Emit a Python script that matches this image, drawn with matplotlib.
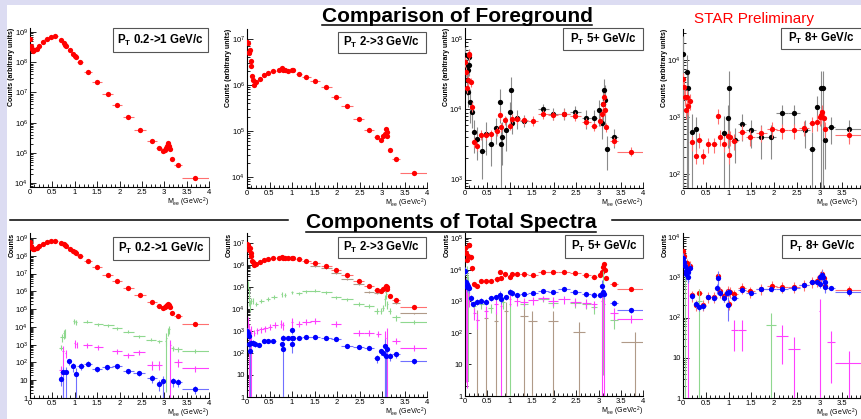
import numpy as np
import matplotlib.pyplot as plt
from matplotlib.ticker import MultipleLocator, FixedLocator, LogLocator, FuncFormatter, NullFormatter
from matplotlib.patches import Rectangle
from matplotlib.lines import Line2D

plt.rcParams['font.family'] = ['Liberation Sans', 'DejaVu Sans']
plt.rcParams['mathtext.default'] = 'regular'

# ---------------------------------------------------------------
# Data: invariant mass (GeV/c^2) and log10(counts)
# ---------------------------------------------------------------

# mass bin edges, used for the horizontal error bars
bin_edges = [0.0, 0.015, 0.025, 0.035, 0.045, 0.055, 0.065, 0.075, 0.085, 0.095,
             0.105, 0.115, 0.125, 0.14, 0.17, 0.24, 0.32, 0.42, 0.52, 0.64, 0.74,
             0.775, 0.79, 0.815, 0.86, 0.95, 0.99, 1.015, 1.045, 1.08, 1.22, 1.41,
             1.62, 1.86, 2.08, 2.34, 2.6, 2.82, 2.94, 3.0, 3.04, 3.07, 3.09, 3.11,
             3.13, 3.15, 3.22, 3.4, 4.0]

pt_labels = ['P$_T$ 0.2->1 GeV/c', 'P$_T$ 2->3 GeV/c', 'P$_T$ 5+ GeV/c', 'P$_T$ 8+ GeV/c']

# pT 0.2-1 foreground (red)
low_x = [0.0, 0.02, 0.05, 0.075, 0.1, 0.15, 0.2, 0.28, 0.37, 0.46, 0.56, 0.69, 0.76,
         0.78, 0.80, 0.89, 0.97, 1.0, 1.03, 1.12, 1.30, 1.50, 1.74, 1.95, 2.20, 2.46,
         2.72, 2.88, 2.98, 3.02, 3.05, 3.07, 3.08, 3.10, 3.12, 3.17, 3.31, 3.69]
low_lg = [8.78, 8.53, 8.42, 8.36, 8.39, 8.44, 8.55, 8.66, 8.75, 8.82, 8.85, 8.72, 8.64,
          8.58, 8.53, 8.39, 8.28, 8.22, 8.17, 8.01, 7.69, 7.35, 6.94, 6.57, 6.18, 5.77,
          5.39, 5.15, 5.05, 5.09, 5.15, 5.22, 5.31, 5.22, 5.13, 4.78, 4.59, 4.16]

# pT 2-3 foreground (red)
mid_x = [0.0, 0.02, 0.04, 0.05, 0.07, 0.08, 0.10, 0.11, 0.13, 0.16, 0.21, 0.28, 0.38,
         0.47, 0.58, 0.71, 0.77, 0.80, 0.84, 0.91, 1.0, 1.03, 1.15, 1.32, 1.51, 1.76,
         1.97, 2.22, 2.48, 2.71, 2.88, 2.98, 3.03, 3.06, 3.08, 3.10, 3.12, 3.17, 3.31, 3.70]
mid_lg = [6.93, 6.91, 6.69, 6.72, 6.76, 6.51, 6.40, 6.19, 6.11, 6.00, 6.05, 6.12, 6.22,
          6.25, 6.29, 6.31, 6.36, 6.32, 6.31, 6.29, 6.32, 6.31, 6.24, 6.16, 6.08, 5.95,
          5.74, 5.53, 5.26, 5.02, 4.86, 4.81, 4.89, 4.94, 5.03, 4.97, 4.89, 4.58, 4.40, 4.09]

# pT 5+ : black (first method) and red (second method)
hi5_black_x = [0.01, 0.03, 0.04, 0.06, 0.07, 0.09, 0.10, 0.12, 0.15, 0.20, 0.28, 0.39,
               0.47, 0.58, 0.70, 0.79, 0.81, 0.84, 0.92, 1.01, 1.03, 1.06, 1.16, 1.33,
               1.76, 1.98, 2.23, 2.48, 2.73, 2.90, 3.01, 3.07, 3.10, 3.12, 3.14, 3.18, 3.35]
hi5_black_lg = [4.78, 4.61, 4.42, 4.25, 4.56, 4.63, 4.75, 4.11, 3.96, 3.68, 3.58, 3.41,
                3.65, 3.50, 3.73, 4.11, 3.50, 3.61, 3.71, 3.96, 4.28, 3.80, 3.88, 3.84,
                4.00, 3.94, 3.94, 3.97, 3.88, 3.88, 3.99, 3.80, 4.07, 4.28, 4.14, 3.44, 3.60]
hi5_black_rel = [0.3, 0.3, 0.4, 0.4, 0.3, 0.3, 0.3, 0.5, 0.4, 0.5, 0.5, 0.6, 0.5, 0.5,
                 0.4, 0.5, 1.0, 0.6, 0.5, 0.4, 0.5, 0.3, 0.3, 0.2, 0.2, 0.2, 0.2, 0.2,
                 0.3, 0.3, 0.4, 0.4, 0.5, 0.4, 0.6, 0.5, 0.3]
hi5_red_x = [0.01, 0.03, 0.04, 0.06, 0.08, 0.10, 0.13, 0.16, 0.21, 0.28, 0.37, 0.47,
             0.58, 0.71, 0.79, 0.82, 0.91, 1.02, 1.06, 1.16, 1.33, 1.53, 1.76, 1.98,
             2.23, 2.48, 2.73, 2.90, 3.03, 3.08, 3.10, 3.13, 3.14, 3.16, 3.35, 3.72]
hi5_red_lg = [4.68, 4.54, 4.30, 4.42, 4.79, 4.78, 4.39, 4.04, 3.53, 3.48, 3.64, 3.63,
              3.65, 3.69, 3.92, 3.75, 3.85, 3.77, 3.87, 3.86, 3.85, 3.84, 3.93, 3.92,
              3.94, 3.90, 3.82, 3.76, 3.84, 3.94, 4.08, 4.18, 3.99, 3.75, 3.55, 3.40]

# pT 8+ : black and red
hi8_black_x = [0.01, 0.09, 0.10, 0.20, 0.28, 0.90, 0.98, 1.0, 1.15, 1.30, 1.50, 1.72,
               1.94, 2.18, 2.44, 2.69, 2.84, 2.95, 3.04, 3.08, 3.13, 3.26, 3.65]
hi8_black_lg = [4.11, 3.79, 3.50, 2.74, 2.79, 2.72, 2.97, 3.50, 2.59, 2.87, 2.76, 2.65,
                2.65, 3.06, 3.06, 2.76, 2.44, 3.18, 3.50, 3.50, 2.60, 2.82, 2.79]
hi8_black_rel = [1.0, 1.0, 1.0, 1.0, 0.6, 1.0, 0.7, 1.0, 0.6, 0.5, 0.5, 0.6, 0.6, 0.4,
                 0.4, 0.5, 1.0, 0.5, 1.0, 1.0, 0.7, 0.5, 0.4]
hi8_red_x = [0.01, 0.03, 0.04, 0.07, 0.09, 0.11, 0.15, 0.20, 0.28, 0.36, 0.45, 0.56,
             0.69, 0.77, 0.81, 0.90, 0.98, 1.00, 1.03, 1.13, 1.30, 1.48, 1.72, 1.96,
             2.18, 2.44, 2.67, 2.84, 2.95, 3.00, 3.04, 3.06, 3.10, 3.13, 3.65]
hi8_red_lg = [3.66, 3.52, 3.35, 3.12, 3.35, 3.19, 3.28, 2.55, 2.32, 2.60, 2.32, 2.52,
              2.52, 3.02, 2.65, 2.53, 2.66, 2.33, 2.64, 2.58, 2.74, 2.65, 2.72, 2.79,
              2.76, 2.76, 2.81, 2.89, 2.91, 3.00, 3.03, 3.09, 2.97, 2.79, 2.68]

# components, pT 0.2-1
c1_green_x = [0.69, 0.72, 0.76, 0.78, 0.98, 1.03, 1.28, 1.53, 1.75, 1.95, 2.20, 2.44,
              2.70, 2.89, 3.03, 3.05, 3.09, 3.11, 3.19, 3.31, 3.69]
c1_green_lg = [2.84, 3.44, 3.63, 3.69, 4.33, 4.25, 4.29, 4.14, 4.10, 3.92, 3.73, 3.48,
               3.29, 3.20, 3.20, 3.35, 3.76, 3.88, 2.82, 2.75, 2.65]
c1_green_rel = [0.3, 0.5, 0.5, 0.5, 0.3, 0.3, 0.2, 0.2, 0.2, 0.2, 0.2, 0.2, 0.2, 0.2,
                0.5, 1.0, 0.5, 0.5, 0.3, 0.3, 0.2]
c1_mag_x = [0.69, 0.74, 0.80, 1.0, 1.04, 1.28, 1.53, 1.95, 2.20, 2.44, 2.72, 2.89,
            3.13, 3.31, 3.69]
c1_mag_lg = [1.60, 2.63, 2.54, 3.11, 3.01, 2.97, 2.88, 2.63, 2.41, 2.60, 1.88, 1.88,
             2.97, 2.03, 1.66]
c1_mag_rel = [0.5, 1.0, 0.5, 0.5, 0.4, 0.3, 0.3, 0.3, 0.3, 0.3, 0.5, 0.5, 1.0, 0.5, 0.4]
c1_blue_x = [0.69, 0.73, 0.80, 0.88, 0.97, 1.03, 1.13, 1.30, 1.50, 1.73, 1.95, 2.20,
             2.44, 2.72, 2.89, 2.98, 3.19, 3.31, 3.69]
c1_blue_lg = [1.09, 1.47, 1.47, 2.07, 1.79, 1.37, 1.81, 1.94, 1.62, 1.73, 1.81, 1.52,
              1.41, 1.13, 0.81, 0.94, 0.94, 0.90, 0.51]
c1_blue_rel = [0.6, 1.0, 1.0, 0.4, 0.5, 1.0, 0.4, 0.3, 0.3, 0.3, 0.3, 0.3, 0.3, 0.5,
               0.6, 1.0, 0.5, 0.5, 0.5]

# components, pT 2-3
c2_brown_x = [1.51, 1.76, 1.97, 2.22, 2.48, 2.71, 2.88, 3.08, 3.10, 3.31, 3.70]
c2_brown_lg = [5.96, 5.85, 5.64, 5.36, 5.13, 4.75, 4.70, 4.75, 4.90, 4.25, 3.79]
c2_green_x = [0.02, 0.04, 0.05, 0.07, 0.10, 0.13, 0.21, 0.32, 0.47, 0.60, 0.77, 0.84,
              1.0, 1.15, 1.32, 1.51, 1.76, 1.97, 2.22, 2.48, 2.71, 2.88, 2.98, 3.03,
              3.06, 3.09, 3.12, 3.17, 3.31, 3.70]
c2_green_lg = [5.13, 4.75, 4.44, 4.21, 4.37, 4.37, 4.24, 4.37, 4.44, 4.55, 4.67, 4.64,
               4.75, 4.70, 4.79, 4.82, 4.75, 4.52, 4.44, 4.24, 4.14, 3.91, 3.91, 4.06,
               4.44, 4.67, 4.21, 3.91, 3.61, 3.42]
c2_green_rel = [0.4, 0.5, 0.5, 0.5, 0.3, 0.3, 0.2, 0.2, 0.2, 0.2, 0.3, 0.2, 0.2, 0.15,
                0.15, 0.15, 0.15, 0.15, 0.15, 0.2, 0.2, 0.3, 0.3, 0.3, 0.5, 0.4, 0.4,
                0.3, 0.3, 0.2]
c2_mag_x = [0.02, 0.04, 0.07, 0.10, 0.16, 0.23, 0.32, 0.41, 0.51, 0.62, 0.75, 0.80,
            1.0, 1.15, 1.32, 1.51, 1.97, 2.48, 2.71, 2.92, 3.07, 3.11, 3.31, 3.70]
c2_mag_lg = [3.45, 3.00, 2.77, 2.92, 2.92, 3.03, 3.07, 3.12, 3.18, 3.27, 3.33, 3.27,
             3.42, 3.33, 3.42, 3.45, 3.33, 2.92, 2.92, 2.88, 2.69, 2.84, 2.54, 2.24]
c2_mag_rel = [0.5, 1.0, 1.0, 1.0, 0.3, 0.3, 0.3, 0.3, 0.3, 0.3, 0.4, 0.4, 0.5, 0.3,
              0.3, 0.3, 0.3, 0.3, 0.3, 0.3, 1.0, 1.0, 0.3, 0.3]
c2_blue_x = [0.01, 0.02, 0.04, 0.05, 0.07, 0.10, 0.13, 0.17, 0.26, 0.38, 0.47, 0.58,
             0.77, 0.79, 0.80, 0.90, 0.99, 1.0, 1.01, 1.03, 1.15, 1.32, 1.51, 1.76,
             1.97, 2.22, 2.48, 2.71, 2.88, 2.98, 3.03, 3.06, 3.09, 3.12, 3.17, 3.31, 3.70]
c2_blue_lg = [3.00, 2.92, 2.39, 2.77, 2.08, 2.46, 2.46, 2.42, 2.36, 2.54, 2.54, 2.54,
              2.39, 2.16, 2.69, 2.69, 2.69, 2.39, 3.03, 2.69, 2.69, 2.72, 2.72, 2.69,
              2.62, 2.31, 2.27, 2.24, 1.75, 2.08, 2.01, 2.31, 1.86, 2.16, 1.86, 1.93, 1.63]
c2_blue_rel = [0.3, 0.3, 0.5, 0.3, 1.0, 0.3, 0.3, 0.3, 0.2, 0.2, 0.2, 0.2, 0.3, 1.0,
               0.3, 0.2, 0.2, 0.6, 0.3, 0.2, 0.15, 0.15, 0.15, 0.15, 0.15, 0.2, 0.2,
               0.2, 0.4, 0.3, 0.3, 1.0, 1.0, 0.3, 0.4, 0.3, 0.3]

# components, pT 5+
c3_brown_x = [0.28, 0.47, 0.70, 0.92, 1.33, 1.51, 1.98, 2.56, 3.81]
c3_brown_lg = [2.42, 2.47, 2.37, 2.69, 2.53, 2.39, 2.39, 2.03, 1.71]
c3_green_x = [0.04, 0.07, 0.21, 0.37, 0.58, 0.86, 1.01, 1.33, 1.76, 1.98, 2.48, 2.73,
              2.90, 3.10, 3.35]
c3_green_lg = [3.81, 3.49, 2.85, 2.90, 2.79, 2.99, 2.92, 2.92, 3.06, 2.93, 2.93, 2.90,
               2.81, 3.65, 2.42]
c3_green_rel = [1.0, 1.0, 0.4, 0.3, 0.3, 0.4, 1.0, 0.3, 0.2, 0.3, 0.3, 0.3, 0.4, 1.0, 0.5]
c3_mag_x = [0.02, 0.05, 0.10, 0.21, 0.28, 0.47, 0.70, 0.81, 1.01, 1.16, 1.33, 1.53,
            1.76, 1.98, 2.23, 2.48, 2.73, 2.90, 3.07, 3.13, 3.35, 3.72]
c3_mag_lg = [3.43, 3.24, 3.11, 2.63, 2.42, 2.69, 2.90, 2.85, 3.06, 3.01, 2.99, 3.03,
             3.09, 3.01, 3.06, 2.99, 2.95, 2.90, 3.01, 2.90, 2.63, 2.45]
c3_mag_rel = [1.0, 1.0, 0.5, 0.4, 0.5, 0.4, 0.5, 1.0, 0.4, 0.3, 0.3, 0.3, 0.2, 0.3,
              0.3, 0.3, 0.3, 0.3, 1.0, 1.0, 0.4, 0.3]
c3_blue_x = [0.0, 0.02, 0.04, 0.05, 0.07, 0.10, 0.13, 0.19, 0.28, 0.37, 0.47, 0.58,
             0.70, 0.79, 0.82, 0.92, 1.01, 1.06, 1.16, 1.33, 1.53, 1.76, 1.98, 2.23,
             2.48, 2.73, 2.90, 3.03, 3.07, 3.10, 3.13, 3.35, 3.72]
c3_blue_lg = [3.97, 3.62, 3.54, 3.45, 3.49, 3.43, 3.09, 2.90, 2.99, 3.01, 2.99, 3.09,
              3.13, 3.20, 3.06, 3.13, 3.30, 3.27, 3.20, 3.24, 3.27, 3.33, 3.30, 3.38,
              3.30, 3.22, 3.20, 3.20, 3.49, 3.30, 3.24, 2.95, 2.71]
c3_blue_rel = [0.3, 0.3, 0.3, 0.3, 0.3, 0.3, 0.3, 0.2, 0.2, 0.2, 0.2, 0.2, 0.2, 0.3,
               0.3, 0.2, 0.2, 0.2, 0.15, 0.15, 0.15, 0.15, 0.15, 0.15, 0.15, 0.15,
               0.2, 0.2, 0.5, 0.3, 0.3, 0.2, 0.2]

# components, pT 8+
c4_green_x = [0.04, 0.36, 1.94]
c4_green_lg = [2.83, 2.40, 1.81]
c4_mag_x = [0.12, 1.13, 1.30, 2.18, 2.44, 3.00, 3.26, 3.65]
c4_mag_lg = [2.91, 1.70, 1.70, 1.55, 1.21, 2.16, 1.38, 0.86]
c4_mag_rel = [1.0, 0.7, 0.7, 0.8, 1.0, 1.0, 0.9, 1.0]
c4_blue_x = [0.01, 0.03, 0.04, 0.06, 0.07, 0.09, 0.10, 0.12, 0.15, 0.20, 0.28, 0.36,
             0.45, 0.56, 0.69, 0.75, 0.77, 0.81, 0.90, 0.97, 0.99, 1.01, 1.13, 1.30,
             1.50, 1.72, 1.94, 2.18, 2.44, 2.67, 2.84, 2.95, 3.00, 3.02, 3.06, 3.08,
             3.11, 3.13, 3.26, 3.65]
c4_blue_lg = [3.48, 3.37, 3.29, 3.16, 3.08, 3.21, 3.01, 3.12, 3.23, 2.54, 2.33, 2.26,
              2.28, 2.51, 2.49, 2.73, 2.98, 2.62, 2.49, 2.62, 2.31, 2.64, 2.49, 2.68,
              2.62, 2.70, 2.70, 2.70, 2.73, 2.80, 2.87, 2.87, 2.83, 3.01, 3.06, 3.00,
              2.76, 2.87, 2.74, 2.64]
c4_blue_rel = [0.3, 0.3, 0.3, 0.3, 0.3, 0.3, 0.3, 0.3, 0.3, 0.2, 0.2, 0.2, 0.2, 0.15,
               0.15, 0.3, 0.5, 0.2, 0.2, 0.2, 0.6, 0.2, 0.15, 0.1, 0.1, 0.1, 0.1, 0.1,
               0.1, 0.1, 0.1, 0.1, 0.2, 0.3, 0.3, 0.3, 0.3, 0.2, 0.1, 0.1]

# ---------------------------------------------------------------
# Helpers
# ---------------------------------------------------------------
W, H = 861, 419


def half_bin(xs):
    e = np.array(bin_edges)
    out = []
    for x in xs:
        i = min(max(np.searchsorted(e, x, side='right') - 1, 0), len(e) - 2)
        out.append((e[i + 1] - e[i]) / 2)
    return np.array(out)


def draw(ax, x, lg, color, ecolor, rel, marker=True, z=3):
    x = np.asarray(x, float)
    y = 10.0 ** np.asarray(lg, float)
    rel = np.broadcast_to(np.asarray(rel, float), y.shape)
    yerr = [y * np.minimum(rel, 0.999), y * rel]
    ax.errorbar(x, y, xerr=half_bin(x), yerr=yerr, fmt='o' if marker else 'none',
                ms=3.8, mew=0, color=color, ecolor=ecolor, elinewidth=0.8,
                capsize=0, zorder=z)


def ylab(v, pos):
    n = int(round(np.log10(v)))
    if n == 0:
        return '1'
    if n == 1:
        return '10'
    return '$10^{%d}$' % n


def make_axes(rect_px, lg_lo, lg_hi, ylabel, last=False):
    l, t, r, b = rect_px
    ax = fig.add_axes([l / W, 1 - b / H, (r - l) / W, (b - t) / H])
    ax.patch.set_alpha(0)
    ax.set_yscale('log')
    ax.set_xlim(0, 4)
    ax.set_ylim(10 ** lg_lo, 10 ** lg_hi)
    for s in ('top', 'right'):
        ax.spines[s].set_visible(False)
    for s in ('left', 'bottom'):
        ax.spines[s].set_linewidth(0.8)
    ax.xaxis.set_major_locator(MultipleLocator(0.5))
    ax.xaxis.set_minor_locator(MultipleLocator(0.1))
    # the right-most pads run past the slide edge, their "4" is cut away
    xmax_lab = 3.9 if last else 4.1
    ax.xaxis.set_major_formatter(FuncFormatter(lambda v, p: '%g' % v if v < xmax_lab else ''))
    # only the decades inside the pad get a label
    decades = [10.0 ** k for k in range(int(np.ceil(lg_lo - 1e-6)), int(np.floor(lg_hi)) + 1)]
    ax.yaxis.set_major_locator(FixedLocator(decades))
    ax.yaxis.set_minor_locator(LogLocator(base=10, subs=np.arange(2, 10), numticks=30))
    ax.yaxis.set_minor_formatter(NullFormatter())
    ax.yaxis.set_major_formatter(FuncFormatter(ylab))
    ax.tick_params(which='both', direction='in', labelsize=5.5, pad=1.5, width=0.6)
    ax.tick_params(which='major', length=4)
    ax.tick_params(which='minor', length=2)
    ax.set_ylabel(ylabel, loc='top', fontsize=5, fontweight='bold')
    ax.yaxis.set_label_coords(-14.5 / (r - l), 1.0)
    ax.set_xlabel('M$_{ee}$ (GeV/c$^2$)', loc='right', fontsize=5)
    xr = (858.0 - l) / (r - l) if last else 1.0
    ax.xaxis.set_label_coords(xr, -9.0 / (b - t))
    return ax


# ---------------------------------------------------------------
# Figure
# ---------------------------------------------------------------
fig = plt.figure(figsize=(W / 100, H / 100), dpi=100)
fig.patch.set_facecolor('#dcdcf2')
fig.add_artist(Rectangle((7 / W, 0), 1, 1 - 5 / H, transform=fig.transFigure,
                         fc='white', ec='none', zorder=-10))

top_rects = [(30, 28, 209, 187), (247, 29, 427, 188), (465, 28, 643, 188), (683, 29, 865, 188)]
top_lims = [(3.87, 9.13), (3.76, 7.21), (2.88, 5.16), (1.75, 4.54)]
bot_rects = [(30, 233, 209, 398), (247, 233, 427, 397), (465, 233, 643, 396), (683, 233, 865, 398)]
bot_lims = [(0, 9.28), (0, 7.44), (0, 5.16), (0, 4.1)]
top_boxes = [(113, 28, 208, 52), (338, 32, 426, 53), (563, 28, 643, 50), (781, 28, 872, 49)]
bot_boxes = [(113, 237, 209, 260), (338, 237, 426, 258), (565, 235, 643, 258), (782, 235, 872, 258)]

top_axes = [make_axes(r, a, b, 'Counts (arbitrary units)', i == 3)
            for i, (r, (a, b)) in enumerate(zip(top_rects, top_lims))]
bot_axes = [make_axes(r, a, b, 'Counts', i == 3)
            for i, (r, (a, b)) in enumerate(zip(bot_rects, bot_lims))]

red, pink = '#ff0000', '#ff7070'
blue, lblue = '#0000ff', '#7070ff'
green = '#8fd88f'
mag = '#ff40ff'
brown = '#b09a88'

# 1. Comparison of foreground
draw(top_axes[0], low_x, low_lg, red, pink, 0.03)
draw(top_axes[1], mid_x, mid_lg, red, pink, 0.05)
draw(top_axes[2], hi5_black_x, hi5_black_lg, 'black', '#8a8a8a', hi5_black_rel)
draw(top_axes[2], hi5_red_x, hi5_red_lg, red, pink, 0.15, z=4)
draw(top_axes[3], hi8_black_x, hi8_black_lg, 'black', '#8a8a8a', hi8_black_rel)
draw(top_axes[3], hi8_red_x, hi8_red_lg, red, pink, 0.3, z=4)

# 2. Components of total spectra
ax = bot_axes[0]
draw(ax, c1_green_x, c1_green_lg, green, green, c1_green_rel, marker=False)
draw(ax, c1_mag_x, c1_mag_lg, mag, mag, c1_mag_rel, marker=False)
draw(ax, c1_blue_x, c1_blue_lg, blue, lblue, c1_blue_rel)
draw(ax, low_x, low_lg, red, pink, 0.03, z=4)

ax = bot_axes[1]
draw(ax, c2_brown_x, c2_brown_lg, brown, brown, 0.1, marker=False)
draw(ax, c2_green_x, c2_green_lg, green, green, c2_green_rel, marker=False)
draw(ax, c2_mag_x, c2_mag_lg, mag, mag, c2_mag_rel, marker=False)
draw(ax, c2_blue_x, c2_blue_lg, blue, lblue, c2_blue_rel)
draw(ax, mid_x, mid_lg, red, pink, 0.05, z=4)

ax = bot_axes[2]
draw(ax, c3_brown_x, c3_brown_lg, brown, brown, 1.0, marker=False)
draw(ax, c3_green_x, c3_green_lg, green, green, c3_green_rel, marker=False)
draw(ax, c3_mag_x, c3_mag_lg, mag, mag, c3_mag_rel, marker=False)
draw(ax, c3_blue_x, c3_blue_lg, blue, lblue, c3_blue_rel)
draw(ax, hi5_red_x, hi5_red_lg, red, pink, 0.15, z=2.5)

ax = bot_axes[3]
draw(ax, c4_green_x, c4_green_lg, green, green, 1.0, marker=False)
draw(ax, c4_mag_x, c4_mag_lg, mag, mag, c4_mag_rel, marker=False)
draw(ax, hi8_red_x, hi8_red_lg, red, pink, 0.3, z=2.5)
draw(ax, c4_blue_x, c4_blue_lg, blue, lblue, c4_blue_rel)

# pT label boxes
for boxes in (top_boxes, bot_boxes):
    for (l, t, r, b), lab in zip(boxes, pt_labels):
        fig.add_artist(Rectangle((l / W, 1 - b / H), (r - l) / W, (b - t) / H,
                                 transform=fig.transFigure, fc='white', ec='#555555',
                                 lw=0.8, zorder=5))
        cx = (l + min(r, 862)) / 2
        fig.text(cx / W, 1 - (t + b) / 2 / H, lab, ha='center', va='center',
                 fontsize=8.3, fontweight='bold', zorder=6)

# titles
t1 = fig.text(457 / W, 1 - 22 / H, 'Comparison of Foreground', ha='center',
              va='baseline', fontsize=15, fontweight='bold')
t2 = fig.text(451 / W, 1 - 228 / H, 'Components of Total Spectra', ha='center',
              va='baseline', fontsize=15, fontweight='bold')
fig.text(754 / W, 1 - 23 / H, 'STAR Preliminary', ha='center', va='baseline',
         fontsize=11, color='red')

fig.canvas.draw()
rnd = fig.canvas.get_renderer()
for t, yl in ((t1, 25), (t2, 232)):
    bb = t.get_window_extent(rnd)
    fig.add_artist(Line2D([bb.x0 / W, bb.x1 / W], [1 - yl / H] * 2,
                          transform=fig.transFigure, color='black', lw=1.1))
bb = t2.get_window_extent(rnd)
fig.add_artist(Line2D([10 / W, (bb.x0 - 18) / W], [1 - 220 / H] * 2,
                      transform=fig.transFigure, color='black', lw=1.1))
fig.add_artist(Line2D([(bb.x1 + 16) / W, 1], [1 - 220 / H] * 2,
                      transform=fig.transFigure, color='black', lw=1.1))

fig.savefig('out.png', dpi=100, facecolor=fig.get_facecolor())
